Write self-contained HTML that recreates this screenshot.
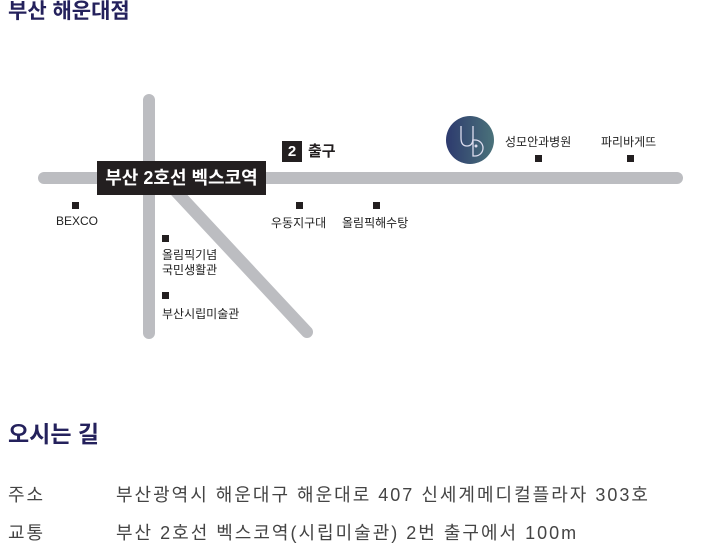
<!DOCTYPE html>
<html><head><meta charset="utf-8"><style>
body{margin:0;width:720px;height:547px;background:#fff;position:relative;overflow:hidden;font-family:"Liberation Sans","Noto Sans CJK KR",sans-serif;}
.a{position:absolute;white-space:nowrap;}
.s{font-size:12px;color:#222;}
.sq{position:absolute;width:7px;height:7px;background:#231f20;}
.r{font-size:18px;color:#444;line-height:26px;letter-spacing:2px;}
</style></head><body>
<div class="a" style="left:8px;top:-1px;font-size:21px;font-weight:bold;color:#24215c;line-height:26px;">부산 해운대점</div>
<svg class="a" style="left:0;top:0" width="720" height="400">
<g stroke="#bcbdc1" stroke-width="12" stroke-linecap="round">
<line x1="44" y1="178" x2="677" y2="178"/>
<line x1="149" y1="100" x2="149" y2="333"/>
<line x1="170" y1="185" x2="307" y2="332"/>
</g>
<defs><linearGradient id="g" x1="0" x2="1"><stop offset="0" stop-color="#2d3a6e"/><stop offset="1" stop-color="#4a727a"/></linearGradient></defs>
<circle cx="470" cy="140" r="24" fill="url(#g)"/>
<path d="M461 126 v12 q0 8 6 8 q6 0 6 -8 v-12" fill="none" stroke="#dde" stroke-width="1.3"/>
<path d="M473 140 h2 a8 8 0 0 1 0 16 h-2 z" fill="none" stroke="#dde" stroke-width="1.3"/>
<circle cx="476" cy="146" r="1.5" fill="#dde"/>
</svg>
<div class="a" style="left:97px;top:161px;width:169px;height:34px;background:#231f20;color:#fff;font-size:18px;font-weight:bold;line-height:34px;text-align:center;">부산 2호선 벡스코역</div>
<div class="a" style="left:282px;top:141px;width:20px;height:21px;background:#231f20;color:#fff;font-size:15px;font-weight:bold;line-height:21px;text-align:center;">2</div>
<div class="a" style="left:308px;top:141px;font-size:15px;font-weight:bold;line-height:21px;color:#231f20;">출구</div>
<div class="sq" style="left:72px;top:202px"></div><div class="a s" style="left:56px;top:214px;">BEXCO</div>
<div class="sq" style="left:296px;top:202px"></div><div class="a s" style="left:271px;top:214px;">우동지구대</div>
<div class="sq" style="left:373px;top:202px"></div><div class="a s" style="left:342px;top:214px;">올림픽해수탕</div>
<div class="sq" style="left:162px;top:235px"></div><div class="a s" style="left:162px;top:248px;line-height:15px;">올림픽기념<br>국민생활관</div>
<div class="sq" style="left:162px;top:292px"></div><div class="a s" style="left:162px;top:305px;">부산시립미술관</div>
<div class="a s" style="left:505px;top:133px;">성모안과병원</div><div class="sq" style="left:535px;top:155px"></div>
<div class="a s" style="left:601px;top:133px;">파리바게뜨</div><div class="sq" style="left:627px;top:155px"></div>
<div class="a" style="left:8px;top:420px;font-size:23px;font-weight:bold;color:#24215c;line-height:28px;">오시는 길</div>
<div class="a r" style="left:8px;top:482px;">주소</div>
<div class="a r" style="left:116px;top:482px;">부산광역시 해운대구 해운대로 407 신세계메디컬플라자 303호</div>
<div class="a r" style="left:8px;top:520px;">교통</div>
<div class="a r" style="left:116px;top:520px;">부산 2호선 벡스코역(시립미술관) 2번 출구에서 100m</div>
</body></html>
